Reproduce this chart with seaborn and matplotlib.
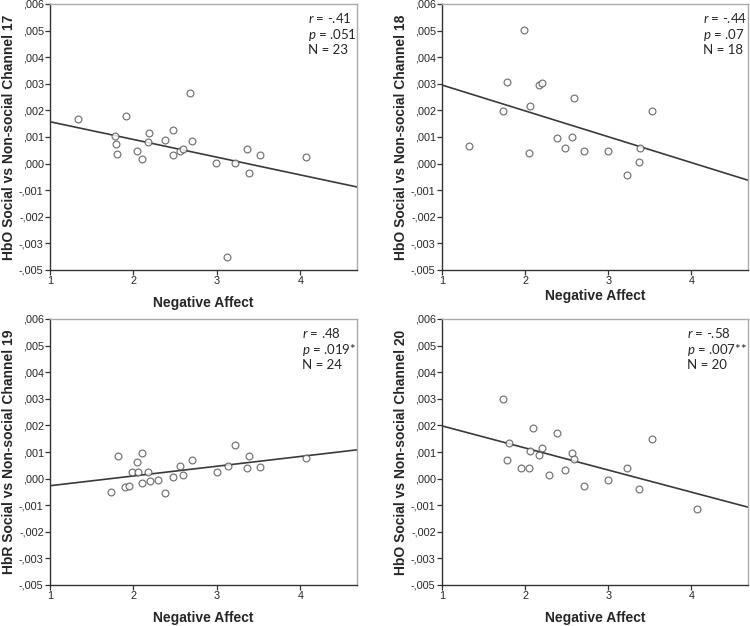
import matplotlib
matplotlib.use("Agg")
import matplotlib.pyplot as plt
import seaborn as sns
import numpy as np
import pandas as pd

# ---- data ----
x17 = [1.33, 1.91, 1.78, 1.79, 1.80, 2.04, 2.10, 2.17, 2.19, 2.38, 2.48, 2.48,
       2.56, 2.59, 2.68, 2.70, 2.99, 3.22, 3.36, 3.38, 3.52, 4.07, 3.12]
y17 = [0.00166, 0.00179, 0.00104, 0.00073, 0.00035, 0.00046, 0.00016, 0.00080,
       0.00114, 0.00090, 0.00125, 0.00031, 0.00048, 0.00055, 0.00264, 0.00085,
       0.00004, 0.00001, 0.00054, -0.00035, 0.00034, 0.00026, -0.00350]

x18 = [1.33, 1.99, 1.73, 1.78, 2.05, 2.06, 2.17, 2.20, 2.38, 2.48, 2.56, 2.59,
       2.71, 3.00, 3.22, 3.37, 3.38, 3.53]
y18 = [0.00066, 0.00504, 0.00196, 0.00305, 0.00039, 0.00218, 0.00295, 0.00303,
       0.00095, 0.00060, 0.00099, 0.00245, 0.00046, 0.00046, -0.00043, 0.00005,
       0.00060, 0.00198]

x19 = [1.73, 1.81, 1.90, 1.95, 1.98, 2.04, 2.06, 2.10, 2.10, 2.17, 2.20, 2.29,
       2.38, 2.48, 2.56, 2.59, 2.70, 3.00, 3.13, 3.22, 3.36, 3.38, 3.52, 4.07]
y19 = [-0.00051, 0.00086, -0.00032, -0.00029, 0.00025, 0.00062, 0.00025, 0.00097,
       -0.00018, 0.00025, -0.00009, -0.00004, -0.00053, 0.00005, 0.00048, 0.00013,
       0.00070, 0.00023, 0.00048, 0.00127, 0.00039, 0.00086, 0.00042, 0.00078]

x20 = [1.73, 2.10, 2.38, 3.53, 1.80, 1.78, 1.95, 2.05, 2.06, 2.20, 2.17, 2.29,
       2.48, 2.56, 2.59, 2.71, 3.00, 3.22, 3.37, 4.07]
y20 = [0.00299, 0.00191, 0.00171, 0.00148, 0.00134, 0.00071, 0.00039, 0.00038,
       0.00103, 0.00115, 0.00087, 0.00013, 0.00033, 0.00095, 0.00075, -0.00029,
       -0.00004, 0.00041, -0.00038, -0.00113]

ylabels = ["HbO Social vs Non-social Channel 17", "HbO Social vs Non-social Channel 18",
           "HbR Social vs Non-social Channel 19", "HbO Social vs Non-social Channel 20"]
stats_r = ["-.41", "-.44", ".48", "-.58"]
stats_p = [".051", ".07", ".019*", ".007**"]
stats_n = ["23", "18", "24", "20"]

xlabel = "Negative Affect"
xticks = [1, 2, 3, 4]
yticks = [0.006, 0.005, 0.004, 0.003, 0.002, 0.001, 0.000, -0.001, -0.002, -0.003, -0.004]
ytick_labels = [",006", ",005", ",004", ",003", ",002", ",001", ",000",
                "-,001", "-,002", "-,003", "-,005"]

sns.set_theme(style="white")
plt.rcParams['font.family'] = ['Liberation Sans', 'DejaVu Sans']
plt.rcParams['mathtext.fontset'] = 'custom'
plt.rcParams['mathtext.it'] = 'Lato:italic'
plt.rcParams['mathtext.rm'] = 'Lato'

fig = plt.figure(figsize=(7.5, 6.26), dpi=100)
W, H = 750, 626
boxes = [(50, 4, 357, 270), (442, 4, 748, 270), (50, 319, 357, 585), (442, 319, 748, 585)]
datasets = [(x17, y17), (x18, y18), (x19, y19), (x20, y20)]
xlabel_pads = [7, 2, 7, 7]
text_x = [0.84, 0.853, 0.82, 0.80]

for i, ((l, t, r, b), (xs, ys)) in enumerate(zip(boxes, datasets)):
    ax = fig.add_axes([l / W, 1 - b / H, (r - l) / W, (b - t) / H])
    ax.set_xlim(1, 4.68)
    ax.set_ylim(-0.004, 0.006)
    df = pd.DataFrame({"x": xs, "y": ys})
    sns.regplot(data=df, x="x", y="y", ax=ax, ci=None, truncate=False,
                scatter_kws=dict(s=24, facecolor="white", edgecolor="#555555",
                                 linewidths=0.9, zorder=3),
                line_kws=dict(color="#3a3a3a", lw=1.2, zorder=2))
    ax.set_xlim(1, 4.68)
    ax.set_ylim(-0.004, 0.006)
    ax.set_xticks(xticks)
    ax.set_xticklabels([str(v) for v in xticks], fontsize=7.8)
    ax.set_yticks(yticks)
    ax.set_yticklabels(ytick_labels, fontsize=7.8)
    ax.tick_params(axis="both", direction="out", length=3.5, width=0.9,
                   color="#333333", pad=1, left=True, bottom=True)
    for s in ["left", "bottom"]:
        ax.spines[s].set_color("#333333")
        ax.spines[s].set_linewidth(1.0)
    for s in ["right", "top"]:
        ax.spines[s].set_color("#aaaaaa")
        ax.spines[s].set_linewidth(1.0)
    ax.set_xlabel(xlabel, fontsize=10, fontweight="bold", labelpad=xlabel_pads[i])
    ax.set_ylabel(ylabels[i], fontsize=10, fontweight="bold", labelpad=2)
    tx = text_x[i]
    ax.text(tx, 0.975, r"$\mathit{r}$ = " + stats_r[i], transform=ax.transAxes,
            fontsize=9.5, va="top", ha="left", family="Lato")
    ax.text(tx, 0.913, r"$\mathit{p}$ = " + stats_p[i], transform=ax.transAxes,
            fontsize=9.5, va="top", ha="left", family="Lato")
    ax.text(tx, 0.851, "N = " + stats_n[i], transform=ax.transAxes,
            fontsize=9.5, va="top", ha="left", family="Lato")

fig.savefig("out.png", dpi=100, facecolor="white")
